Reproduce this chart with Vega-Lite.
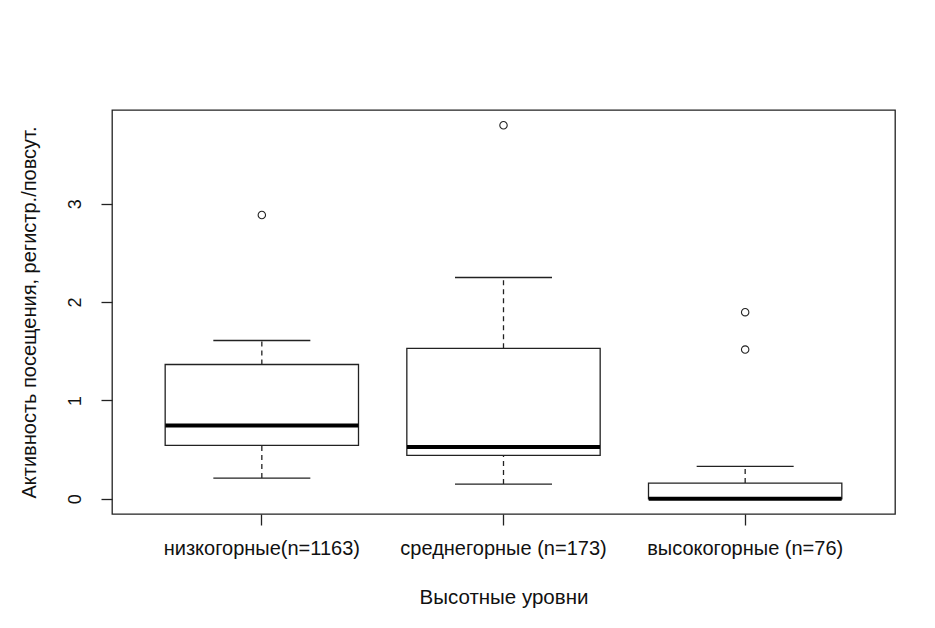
{
  "$schema": "https://vega.github.io/schema/vega-lite/v6.json",
  "width": 783,
  "height": 404,
  "autosize": {"type": "none"},
  "padding": {"left": 112, "top": 110, "right": 40, "bottom": 114},
  "background": "white",
  "datasets": {
    "stats": [
      {"group": "низкогорные(n=1163)", "lower": 0.21, "q1": 0.543, "median": 0.746, "q3": 1.365, "upper": 1.609},
      {"group": "среднегорные (n=173)", "lower": 0.149, "q1": 0.441, "median": 0.526, "q3": 1.53, "upper": 2.25},
      {"group": "высокогорные (n=76)", "lower": 0.0, "q1": 0.0, "median": 0.0, "q3": 0.159, "upper": 0.329}
    ],
    "outliers": [
      {"group": "низкогорные(n=1163)", "value": 2.885},
      {"group": "среднегорные (n=173)", "value": 3.798},
      {"group": "высокогорные (n=76)", "value": 1.897},
      {"group": "высокогорные (n=76)", "value": 1.517}
    ]
  },
  "config": {
    "font": "Liberation Sans",
    "view": {"stroke": "#222", "strokeWidth": 1.3},
    "axis": {
      "labelFont": "Liberation Sans",
      "titleFont": "Liberation Sans",
      "labelFontSize": 20,
      "titleFontSize": 20.5,
      "titleFontWeight": "normal",
      "labelColor": "#111",
      "titleColor": "#111",
      "tickColor": "#222",
      "tickWidth": 1.3,
      "tickSize": 11,
      "labelLimit": 0,
      "domain": false,
      "grid": false
    }
  },
  "encoding": {
    "x": {
      "field": "group",
      "type": "nominal",
      "sort": ["низкогорные(n=1163)", "среднегорные (n=173)", "высокогорные (n=76)"],
      "scale": {"paddingInner": 0.2, "paddingOuter": 0.22},
      "axis": {
        "title": "Высотные уровни",
        "labelAngle": 0,
        "labelPadding": 13,
        "titlePadding": 29
      }
    }
  },
  "layer": [
    {
      "data": {"name": "stats"},
      "mark": {"type": "rule", "color": "#222", "strokeWidth": 1.3, "strokeDash": [5, 4]},
      "encoding": {
        "y": {
          "field": "lower",
          "type": "quantitative",
          "scale": {"domain": [-0.155, 3.953], "nice": false, "zero": false},
          "axis": {
            "title": "Активность посещения, регистр./повсут.",
            "titleFontSize": 20,
            "labelFontSize": 18,
            "values": [0, 1, 2, 3],
            "format": "d",
            "labelAngle": -90,
            "labelAlign": "center",
            "labelBaseline": "alphabetic",
            "labelPadding": 21,
            "titlePadding": 27
          }
        },
        "y2": {"field": "q1"}
      }
    },
    {
      "data": {"name": "stats"},
      "mark": {"type": "rule", "color": "#222", "strokeWidth": 1.3, "strokeDash": [5, 4]},
      "encoding": {
        "y": {"field": "q3", "type": "quantitative"},
        "y2": {"field": "upper"}
      }
    },
    {
      "data": {"name": "stats"},
      "mark": {"type": "bar", "fill": "white", "stroke": "#222", "strokeWidth": 1.3, "width": {"band": 1}},
      "encoding": {
        "y": {"field": "q1", "type": "quantitative"},
        "y2": {"field": "q3"}
      }
    },
    {
      "data": {"name": "stats"},
      "mark": {"type": "tick", "color": "#222", "opacity": 1, "size": 97, "thickness": 1.3},
      "encoding": {
        "y": {"field": "lower", "type": "quantitative"}
      }
    },
    {
      "data": {"name": "stats"},
      "mark": {"type": "tick", "color": "#222", "opacity": 1, "size": 97, "thickness": 1.3},
      "encoding": {
        "y": {"field": "upper", "type": "quantitative"}
      }
    },
    {
      "data": {"name": "stats"},
      "mark": {"type": "tick", "color": "black", "opacity": 1, "size": 193, "thickness": 4},
      "encoding": {
        "y": {"field": "median", "type": "quantitative"}
      }
    },
    {
      "data": {"name": "outliers"},
      "mark": {"type": "point", "shape": "circle", "filled": false, "color": "#222", "size": 55, "strokeWidth": 1.1, "opacity": 1},
      "encoding": {
        "y": {"field": "value", "type": "quantitative"}
      }
    }
  ]
}
